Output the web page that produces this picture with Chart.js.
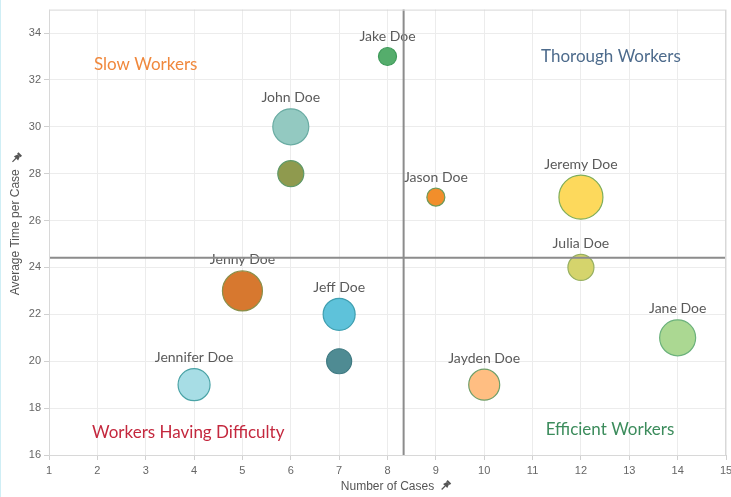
<!DOCTYPE html>
<html lang="en">
<head>
    <meta charset="UTF-8">
    <title>Cases vs Time per Case</title>
    <script src="https://cdn.jsdelivr.net/npm/chart.js"></script>
    <style>
        html, body { margin: 0; padding: 0; background: #fff; }
        .chart-container { width: 731px; height: 497px; position: relative; border-left: 1px solid #cfeef5; box-sizing: border-box; }
    </style>
</head>
<body>
    <div class="chart-container">
        <canvas id="caseChart"></canvas>
    </div>

    <script>
        // worker data
        const workers = ['Jake Doe', 'John Doe', '', 'Jason Doe', 'Jeremy Doe', 'Julia Doe',
                         'Jenny Doe', 'Jeff Doe', '', 'Jennifer Doe', 'Jayden Doe', 'Jane Doe'];
        const numberOfCases = [8, 6, 6, 9, 12, 12, 5, 7, 7, 4, 10, 14];
        const avgTimePerCase = [33, 30, 28, 27, 27, 24, 23, 22, 20, 19, 19, 21];
        const bubbleSize = [9, 18, 13, 9, 22, 13, 20, 16, 12.5, 16, 15.5, 18];

        const fillColors = ['#55ad6c', '#93c9c1', '#8f9a4e', '#f28e2b', '#fdd95c', '#d5d46c',
                            '#d7782f', '#5ec2da', '#4f8b93', '#a7dde5', '#ffbe82', '#abd892'];
        const edgeColors = ['#3f9a5a', '#6aaca3', '#5f9968', '#6f9a5a', '#7fae5a', '#97b061',
                            '#8a8f4a', '#3f9fb0', '#3f7a82', '#4aa3a6', '#6f9f6a', '#6cb27c'];

        const quadrantText = ['Slow Workers', 'Thorough Workers', 'Workers Having Difficulty', 'Efficient Workers'];
        const quadrantX = [3, 12.62, 3.88, 12.6];
        const quadrantY = [32.64, 33.0, 16.98, 17.07];
        const quadrantColors = ['#f0883c', '#4d6b8c', '#c4283e', '#3c8c5c'];

        const mean = arr => arr.reduce((a, b) => a + b, 0) / arr.length;
        const avgCases = mean(numberOfCases);
        const avgTime = mean(avgTimePerCase);

        function drawPin(ctx, x, y) {
            ctx.save();
            ctx.translate(x, y);
            ctx.rotate(Math.PI / 4);
            ctx.fillStyle = '#555';
            ctx.strokeStyle = '#555';
            ctx.lineWidth = 1.2;
            ctx.fillRect(-2.5, -6, 5, 2);
            ctx.beginPath();
            ctx.moveTo(-1.5, -4);
            ctx.lineTo(1.5, -4);
            ctx.lineTo(3, 0);
            ctx.lineTo(-3, 0);
            ctx.closePath();
            ctx.fill();
            ctx.beginPath();
            ctx.moveTo(0, 0);
            ctx.lineTo(0, 5);
            ctx.stroke();
            ctx.restore();
        }

        const quadrantPlugin = {
            id: 'quadrants',
            afterDatasetsDraw(chart) {
                const ctx = chart.ctx;
                const xs = chart.scales.x, ys = chart.scales.y;
                const area = chart.chartArea;
                const meta = chart.getDatasetMeta(0);

                ctx.save();
                // bubble labels
                ctx.font = '14px Lato, sans-serif';
                ctx.fillStyle = '#5a5a5a';
                ctx.textAlign = 'center';
                ctx.textBaseline = 'middle';
                meta.data.forEach((el, i) => {
                    if (!workers[i]) return;
                    ctx.fillText(workers[i], el.x, el.y - bubbleSize[i] - 11);
                });

                // quadrant names
                ctx.font = '17px Lato, sans-serif';
                quadrantText.forEach((t, i) => {
                    ctx.fillStyle = quadrantColors[i];
                    ctx.fillText(t, xs.getPixelForValue(quadrantX[i]), ys.getPixelForValue(quadrantY[i]));
                });

                // average reference lines
                ctx.strokeStyle = '#8c8c8c';
                ctx.lineWidth = 2;
                const vx = xs.getPixelForValue(avgCases);
                const hy = ys.getPixelForValue(avgTime);
                ctx.beginPath();
                ctx.moveTo(vx, area.top);
                ctx.lineTo(vx, area.bottom);
                ctx.moveTo(area.left, hy);
                ctx.lineTo(area.right, hy);
                ctx.stroke();

                // plot border
                ctx.strokeStyle = '#d8d8d8';
                ctx.lineWidth = 1;
                ctx.strokeRect(area.left + 0.5, area.top + 0.5, area.right - area.left - 1, area.bottom - area.top);

                // axis titles
                ctx.font = '12px "Liberation Sans", Arial, sans-serif';
                ctx.fillStyle = '#555';
                const xTitle = 'Number of Cases';
                const cx = (area.left + area.right) / 2;
                ctx.fillText(xTitle, cx, 487);
                drawPin(ctx, cx + ctx.measureText(xTitle).width / 2 + 11, 486);

                const yTitle = 'Average Time per Case';
                const cy = (area.top + area.bottom) / 2;
                ctx.save();
                ctx.translate(15, cy);
                ctx.rotate(-Math.PI / 2);
                ctx.fillText(yTitle, 0, 0);
                ctx.restore();
                drawPin(ctx, 15, cy - ctx.measureText(yTitle).width / 2 - 11);
                ctx.restore();
            }
        };

        const ctx = document.getElementById('caseChart').getContext('2d');
        const caseChart = new Chart(ctx, {
            type: 'bubble',
            data: {
                datasets: [{
                    label: 'Workers',
                    data: numberOfCases.map((x, i) => ({ x: x, y: avgTimePerCase[i], r: bubbleSize[i] })),
                    backgroundColor: fillColors,
                    borderColor: edgeColors,
                    borderWidth: 1.2,
                    hoverRadius: 0
                }]
            },
            options: {
                responsive: true,
                maintainAspectRatio: false,
                animation: false,
                layout: { autoPadding: false, padding: { top: 9, right: 5, left: 0, bottom: 0 } },
                plugins: {
                    legend: { display: false },
                    tooltip: { enabled: false }
                },
                scales: {
                    x: {
                        type: 'linear',
                        min: 1,
                        max: 15,
                        border: { display: false },
                        grid: { color: '#ececec', tickColor: '#d0d0d0', tickLength: 5 },
                        ticks: {
                            stepSize: 1,
                            color: '#666',
                            padding: 4,
                            font: { family: '"Liberation Sans", Arial, sans-serif', size: 11 }
                        },
                        afterFit(scale) {
                            scale.height = 42;
                            scale.paddingRight = 0;
                        }
                    },
                    y: {
                        type: 'linear',
                        min: 16,
                        max: 35,
                        border: { display: false },
                        grid: { color: '#ececec', tickColor: '#d0d0d0', tickLength: 5 },
                        ticks: {
                            stepSize: 2,
                            color: '#666',
                            padding: 3,
                            font: { family: '"Liberation Sans", Arial, sans-serif', size: 11 }
                        },
                        afterBuildTicks(scale) {
                            scale.ticks = scale.ticks.filter(t => t.value % 2 === 0);
                        },
                        afterFit(scale) { scale.width = 48; }
                    }
                }
            },
            plugins: [quadrantPlugin]
        });
    </script>
</body>
</html>
